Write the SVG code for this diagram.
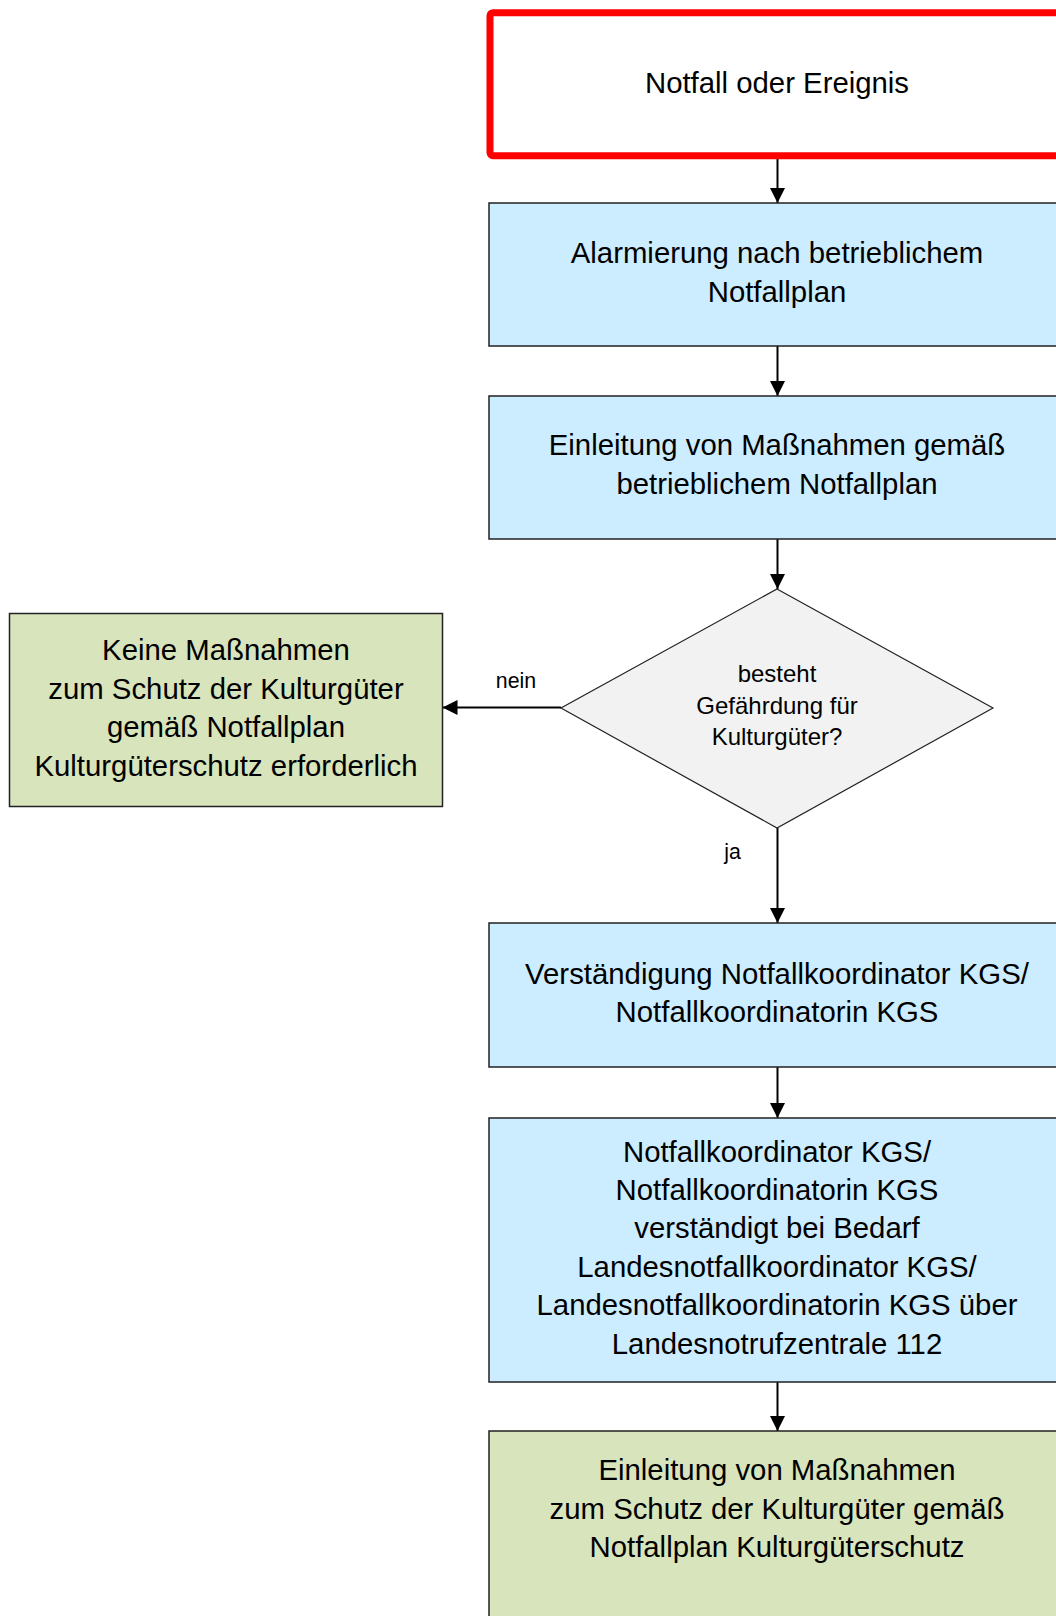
<svg xmlns="http://www.w3.org/2000/svg" width="1056" height="1616" viewBox="0 0 1056 1616">
<style>
.t{font-family:"Liberation Sans",Arial,sans-serif;font-size:29.33px;fill:#000;text-anchor:middle}
.d{font-family:"Liberation Sans",Arial,sans-serif;font-size:24px;fill:#000;text-anchor:middle}
.l{font-family:"Liberation Sans",Arial,sans-serif;font-size:21.33px;fill:#000;text-anchor:middle}
.blue{fill:#CCECFF;stroke:#222;stroke-width:1.5}
.green{fill:#D8E4BC;stroke:#222;stroke-width:1.5}
.c{stroke:#000;stroke-width:2;fill:none;marker-end:url(#ah)}
</style>
<defs>
<marker id="ah" markerUnits="userSpaceOnUse" markerWidth="15" markerHeight="15" refX="15" refY="7.5" orient="auto" viewBox="0 0 15 15">
<path d="M0,0 L15,7.5 L0,15 z" fill="#000"/>
</marker>
</defs>
<rect width="1056" height="1616" fill="#fff"/>
<g id="connectors">
<line class="c" x1="777.5" y1="159" x2="777.5" y2="203"/>
<line class="c" x1="777.5" y1="346" x2="777.5" y2="396"/>
<line class="c" x1="777.5" y1="539" x2="777.5" y2="589"/>
<line class="c" x1="561" y1="707.5" x2="442.5" y2="707.5"/>
<line class="c" x1="777.5" y1="828" x2="777.5" y2="923"/>
<line class="c" x1="777.5" y1="1067" x2="777.5" y2="1118"/>
<line class="c" x1="777.5" y1="1382" x2="777.5" y2="1431"/>
<text class="l" x="516" y="688">nein</text>
<text class="l" x="732.5" y="859">ja</text>
</g>
<g id="n1">
<rect x="490" y="12.7" width="620" height="143" rx="3" fill="#fff" stroke="#FF0000" stroke-width="7"/>
<text class="t" x="777" y="92.5">Notfall oder Ereignis</text>
</g>
<g id="n2">
<rect class="blue" x="489" y="203" width="620" height="143"/>
<text class="t" x="777" y="263">Alarmierung nach betrieblichem</text>
<text class="t" x="777" y="302">Notfallplan</text>
</g>
<g id="n3">
<rect class="blue" x="489" y="396" width="620" height="143"/>
<text class="t" x="777" y="455">Einleitung von Maßnahmen gemäß</text>
<text class="t" x="777" y="494">betrieblichem Notfallplan</text>
</g>
<g id="n4">
<polygon points="777,589 993,708 777,828 561,708" fill="#F2F2F2" stroke="#222" stroke-width="1.2"/>
<text class="d" x="777" y="682">besteht</text>
<text class="d" x="777" y="713.5">Gefährdung für</text>
<text class="d" x="777" y="745">Kulturgüter?</text>
</g>
<g id="n5">
<rect class="green" x="9.5" y="613.5" width="433" height="193"/>
<text class="t" x="226" y="660">Keine Maßnahmen</text>
<text class="t" x="226" y="698.5">zum Schutz der Kulturgüter</text>
<text class="t" x="226" y="737">gemäß Notfallplan</text>
<text class="t" x="226" y="775.5">Kulturgüterschutz erforderlich</text>
</g>
<g id="n6">
<rect class="blue" x="489" y="923" width="620" height="144"/>
<text class="t" x="777" y="983.5">Verständigung Notfallkoordinator KGS/</text>
<text class="t" x="777" y="1022">Notfallkoordinatorin KGS</text>
</g>
<g id="n7">
<rect class="blue" x="489" y="1118" width="620" height="264"/>
<text class="t" x="777" y="1161.7">Notfallkoordinator KGS/</text>
<text class="t" x="777" y="1200">Notfallkoordinatorin KGS</text>
<text class="t" x="777" y="1238.3">verständigt bei Bedarf</text>
<text class="t" x="777" y="1276.7">Landesnotfallkoordinator KGS/</text>
<text class="t" x="777" y="1315">Landesnotfallkoordinatorin KGS über</text>
<text class="t" x="777" y="1353.5">Landesnotrufzentrale 112</text>
</g>
<g id="n8">
<rect class="green" x="489" y="1431" width="620" height="300"/>
<text class="t" x="777" y="1480">Einleitung von Maßnahmen</text>
<text class="t" x="777" y="1518.5">zum Schutz der Kulturgüter gemäß</text>
<text class="t" x="777" y="1557">Notfallplan Kulturgüterschutz</text>
</g>
</svg>
